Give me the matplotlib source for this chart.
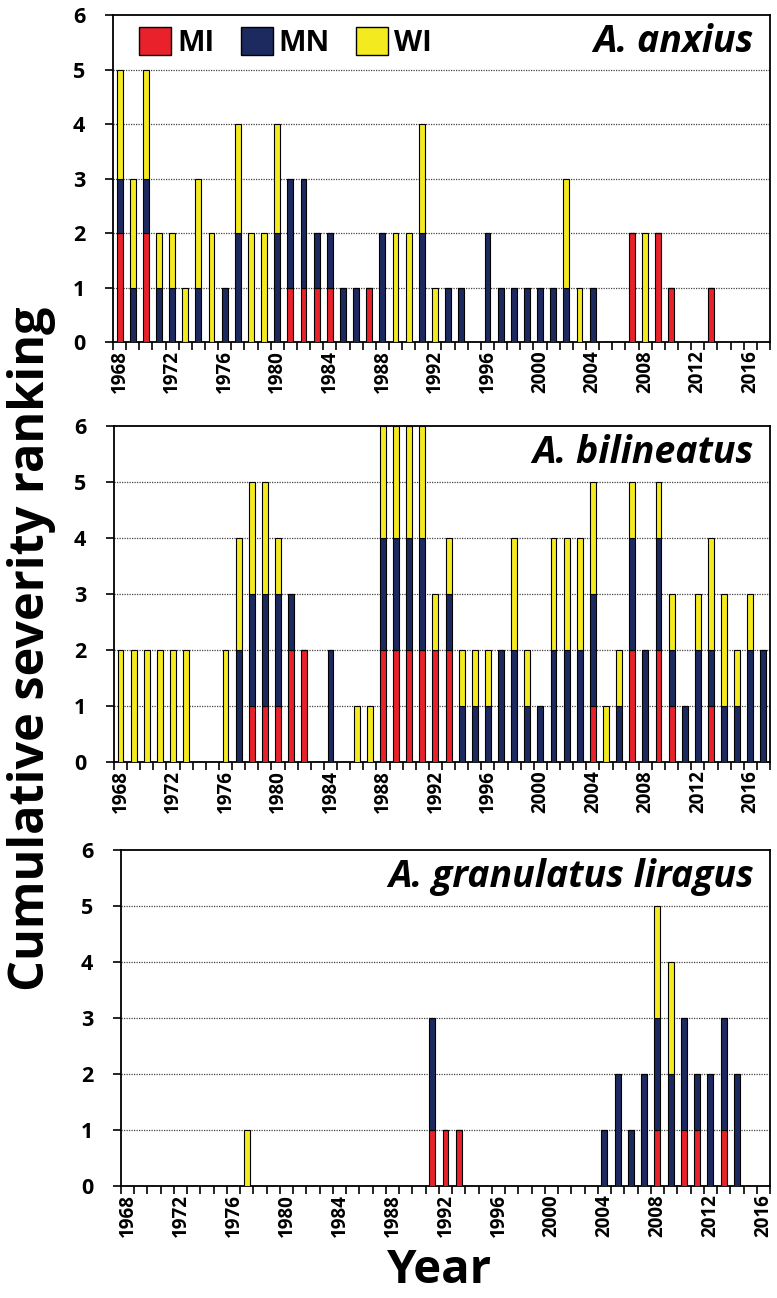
import matplotlib

matplotlib.use("Agg")
import matplotlib.pyplot as plt
import numpy as np
from matplotlib.patches import Patch

plt.rcParams["font.family"] = ["Open Sans", "DejaVu Sans"]

# years 1968-2017 for the first two species, 1968-2016 for the last
YEARS_LONG = list(range(1968, 2018))
YEARS_SHORT = list(range(1968, 2017))

ANXIUS_MI = [2, 0, 2, 0, 0, 0, 0, 0, 0, 0,
             0, 0, 0, 1, 1, 1, 1, 0, 0, 1,
             0, 0, 0, 0, 0, 0, 0, 0, 0, 0,
             0, 0, 0, 0, 0, 0, 0, 0, 0, 2,
             0, 2, 1, 0, 0, 1, 0, 0, 0, 0]
ANXIUS_MN = [1, 1, 1, 1, 1, 0, 1, 0, 1, 2,
             0, 0, 2, 2, 2, 1, 1, 1, 1, 0,
             2, 0, 0, 2, 0, 1, 1, 0, 2, 1,
             1, 1, 1, 1, 1, 0, 1, 0, 0, 0,
             0, 0, 0, 0, 0, 0, 0, 0, 0, 0]
ANXIUS_WI = [2, 2, 2, 1, 1, 1, 2, 2, 0, 2,
             2, 2, 2, 0, 0, 0, 0, 0, 0, 0,
             0, 2, 2, 2, 1, 0, 0, 0, 0, 0,
             0, 0, 0, 0, 2, 1, 0, 0, 0, 0,
             2, 0, 0, 0, 0, 0, 0, 0, 0, 0]

BILINEATUS_MI = [0, 0, 0, 0, 0, 0, 0, 0, 0, 0,
                 1, 1, 1, 2, 2, 0, 0, 0, 0, 0,
                 2, 2, 2, 2, 2, 2, 0, 0, 0, 0,
                 0, 0, 0, 0, 0, 0, 1, 0, 0, 2,
                 0, 2, 1, 0, 0, 1, 0, 0, 0, 0]
BILINEATUS_MN = [0, 0, 0, 0, 0, 0, 0, 0, 0, 2,
                 2, 2, 2, 1, 0, 0, 2, 0, 0, 0,
                 2, 2, 2, 2, 0, 1, 1, 1, 1, 2,
                 2, 1, 1, 2, 2, 2, 2, 0, 1, 2,
                 2, 2, 1, 1, 2, 1, 1, 1, 2, 2]
BILINEATUS_WI = [2, 2, 2, 2, 2, 2, 0, 0, 2, 2,
                 2, 2, 1, 0, 0, 0, 0, 0, 1, 1,
                 2, 2, 2, 2, 1, 1, 1, 1, 1, 0,
                 2, 1, 0, 2, 2, 2, 2, 1, 1, 1,
                 0, 1, 1, 0, 1, 2, 2, 1, 1, 0]

GRANULATUS_MI = [0, 0, 0, 0, 0, 0, 0, 0, 0, 0,
                 0, 0, 0, 0, 0, 0, 0, 0, 0, 0,
                 0, 0, 0, 1, 1, 1, 0, 0, 0, 0,
                 0, 0, 0, 0, 0, 0, 0, 0, 0, 0,
                 1, 0, 1, 1, 0, 1, 0, 0, 0]
GRANULATUS_MN = [0, 0, 0, 0, 0, 0, 0, 0, 0, 0,
                 0, 0, 0, 0, 0, 0, 0, 0, 0, 0,
                 0, 0, 0, 2, 0, 0, 0, 0, 0, 0,
                 0, 0, 0, 0, 0, 0, 1, 2, 1, 2,
                 2, 2, 2, 1, 2, 2, 2, 0, 0]
GRANULATUS_WI = [0, 0, 0, 0, 0, 0, 0, 0, 0, 1,
                 0, 0, 0, 0, 0, 0, 0, 0, 0, 0,
                 0, 0, 0, 0, 0, 0, 0, 0, 0, 0,
                 0, 0, 0, 0, 0, 0, 0, 0, 0, 0,
                 2, 2, 0, 0, 0, 0, 0, 0, 0]

SERIES = ["MI", "MN", "WI"]
COLORS = {"MI": "#e8212b", "MN": "#1d2a5f", "WI": "#f3ea1f"}


def draw_panel(ax, years, mi, mn, wi, title, legend=False):
    years = np.array(years)
    bottom = np.zeros(len(years))
    for name, vals in zip(SERIES, [mi, mn, wi]):
        vals = np.array(vals, dtype=float)
        ax.bar(years, vals, width=0.45, bottom=bottom, color=COLORS[name],
               edgecolor="black", linewidth=0.8, zorder=3)
        bottom += vals

    ax.set_xlim(years[0] - 0.5, years[-1] + 0.5)
    ax.set_ylim(0, 6)
    ax.set_yticks(range(7))
    ax.set_yticklabels([str(v) for v in range(7)], fontsize=15.5, fontweight="bold")
    ax.tick_params(axis="y", length=6, width=1.2, direction="out", pad=14)

    ax.set_xticks(range(1968, years[-1] + 1, 4))
    ax.set_xticklabels([str(y) for y in range(1968, years[-1] + 1, 4)],
                       rotation=90, fontsize=13.5, fontweight="bold")
    ax.set_xticks(np.arange(years[0] - 0.5, years[-1] + 1), minor=True)
    ax.tick_params(axis="x", which="major", length=0, pad=6)
    ax.tick_params(axis="x", which="minor", length=6, width=1.2, direction="out")

    for v in range(1, 6):
        ax.axhline(v, color="#444444", linestyle=(0, (1, 1)), linewidth=0.9, zorder=1)

    for spine in ax.spines.values():
        spine.set_linewidth(1.3)

    ax.text(0.975, 0.975, title, transform=ax.transAxes, ha="right", va="top",
            fontsize=27, fontweight="bold", fontstyle="italic", zorder=5)

    if legend:
        handles = [Patch(facecolor=COLORS[n], edgecolor="black", linewidth=1.0) for n in SERIES]
        ax.legend(handles, SERIES, loc="upper left", bbox_to_anchor=(0.0, 1.045), ncol=3,
                  frameon=False, handlelength=1.1, handleheight=1.1, handletextpad=0.2,
                  columnspacing=0.9, prop={"size": 21, "weight": "bold"})


def main():
    fig = plt.figure(figsize=(7.77, 12.98), dpi=100)
    ax1 = fig.add_axes([0.1454, 0.7365, 0.8456, 0.2519])
    ax2 = fig.add_axes([0.1467, 0.4129, 0.8443, 0.2589])
    ax3 = fig.add_axes([0.1557, 0.0863, 0.8353, 0.2589])

    draw_panel(ax1, YEARS_LONG, ANXIUS_MI, ANXIUS_MN, ANXIUS_WI, "A. anxius", legend=True)
    draw_panel(ax2, YEARS_LONG, BILINEATUS_MI, BILINEATUS_MN, BILINEATUS_WI, "A. bilineatus")
    draw_panel(ax3, YEARS_SHORT, GRANULATUS_MI, GRANULATUS_MN, GRANULATUS_WI,
               "A. granulatus liragus")

    fig.text(0.04, 0.5, "Cumulative severity ranking", rotation=90, ha="center",
             va="center", fontsize=35, fontweight="bold")
    fig.text(0.565, 0.021, "Year", ha="center", va="center", fontsize=34, fontweight="bold")

    fig.savefig("out.png", dpi=100)
    plt.close(fig)


if __name__ == "__main__":
    main()
